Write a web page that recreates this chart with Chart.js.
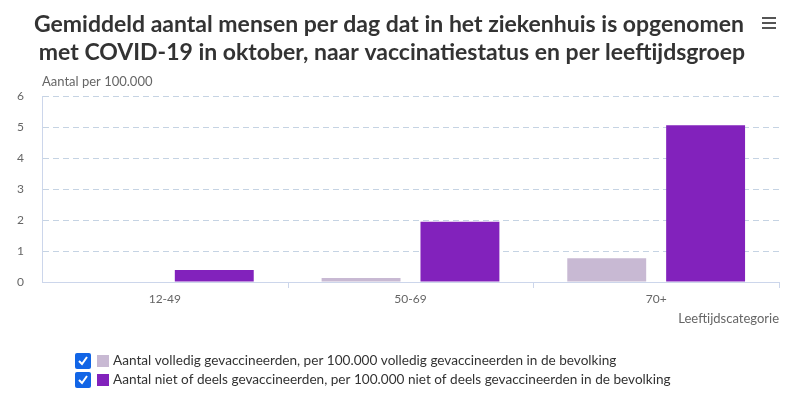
<!DOCTYPE html>
<html>
<head>
<meta charset="utf-8">
<script src="https://cdn.jsdelivr.net/npm/chart.js@4"></script>
<style>
  html, body { margin: 0; padding: 0; background: #fff; }
  #wrap { width: 787px; height: 393px; }
</style>
</head>
<body>
<div id="wrap"><canvas id="chart"></canvas></div>
<script>
// data
const categories = ['12-49', '50-69', '70+'];
const vaccinated = [0, 0.13, 0.77];
const unvaccinated = [0.39, 1.94, 5.06];
const seriesNames = [
    'Aantal volledig gevaccineerden, per 100.000 volledig gevaccineerden in de bevolking',
    'Aantal niet of deels gevaccineerden, per 100.000 niet of deels gevaccineerden in de bevolking'
];
const titleLines = [
    'Gemiddeld aantal mensen per dag dat in het ziekenhuis is opgenomen',
    'met COVID-19 in oktober, naar vaccinatiestatus en per leeftijdsgroep'
];
const colors = ['#c8b9d3', '#8222bc'];
const fontFamily = 'Lato, "Noto Sans", sans-serif';

// title, axis titles, legend and menu icon drawn on the canvas
const decorations = {
    id: 'decorations',
    afterDraw(chart) {
        const ctx = chart.ctx;
        const area = chart.chartArea;
        ctx.save();

        // title
        ctx.fillStyle = '#333333';
        ctx.font = 'bold 23px ' + fontFamily;
        ctx.textAlign = 'center';
        ctx.textBaseline = 'middle';
        ctx.fillText(titleLines[0], 389, 25);
        ctx.fillText(titleLines[1], 392, 53);

        // menu icon
        ctx.fillStyle = '#555555';
        for (let i = 0; i < 3; i++) {
            ctx.fillRect(762, 17 + i * 5, 14, 2);
        }

        // axis titles
        ctx.fillStyle = '#666666';
        ctx.font = '13px ' + fontFamily;
        ctx.textAlign = 'left';
        ctx.fillText('Aantal per 100.000', area.left, 82);
        ctx.textAlign = 'right';
        ctx.fillText('Leeftijdscategorie', area.right, 319);

        // legend with checkboxes
        ctx.textAlign = 'left';
        ctx.font = '13.6px ' + fontFamily;
        seriesNames.forEach((name, i) => {
            const y = 361 + i * 19;
            ctx.fillStyle = '#1265e6';
            ctx.beginPath();
            ctx.roundRect(75, y - 8, 16, 16, 2);
            ctx.fill();
            ctx.strokeStyle = '#ffffff';
            ctx.lineWidth = 2;
            ctx.beginPath();
            ctx.moveTo(79, y);
            ctx.lineTo(82, y + 3);
            ctx.lineTo(87, y - 4);
            ctx.stroke();
            ctx.fillStyle = colors[i];
            ctx.fillRect(97, y - 6, 12, 12);
            ctx.fillStyle = '#333333';
            ctx.fillText(name, 113, y);
        });

        // x axis tick marks at category boundaries
        const xs = chart.scales.x;
        ctx.strokeStyle = '#ccd6eb';
        ctx.lineWidth = 1;
        for (let i = 1; i <= categories.length; i++) {
            const x = Math.round(xs.getPixelForValue(i - 0.5)) + 0.5;
            ctx.beginPath();
            ctx.moveTo(x, area.bottom);
            ctx.lineTo(x, area.bottom + 6);
            ctx.stroke();
        }
        ctx.restore();
    }
};

const ctx = document.getElementById('chart').getContext('2d');
new Chart(ctx, {
    type: 'bar',
    data: {
        labels: categories,
        datasets: [
            { label: seriesNames[0], data: vaccinated, backgroundColor: colors[0] },
            { label: seriesNames[1], data: unvaccinated, backgroundColor: colors[1] }
        ]
    },
    options: {
        responsive: true,
        maintainAspectRatio: false,
        animation: false,
        categoryPercentage: 0.805,
        barPercentage: 0.798,
        layout: { padding: { top: 96, right: 8, bottom: 81, left: 0 } },
        plugins: {
            legend: { display: false },
            title: { display: false },
            tooltip: { enabled: false }
        },
        scales: {
            x: {
                grid: { display: false, drawTicks: false },
                border: { display: true, color: '#ccd6eb' },
                ticks: { color: '#666666', font: { family: fontFamily, size: 12 }, padding: 10 },
                afterFit(scale) { scale.height = 30; }
            },
            y: {
                min: 0,
                max: 6,
                ticks: { stepSize: 1, color: '#666666', font: { family: fontFamily, size: 12 }, padding: 18 },
                grid: { color: '#c5d3e3', drawTicks: false },
                border: { display: true, color: '#ccd6eb', dash: [6, 4] },
                afterFit(scale) { scale.width = 42; }
            }
        }
    },
    plugins: [decorations]
});
</script>
</body>
</html>
